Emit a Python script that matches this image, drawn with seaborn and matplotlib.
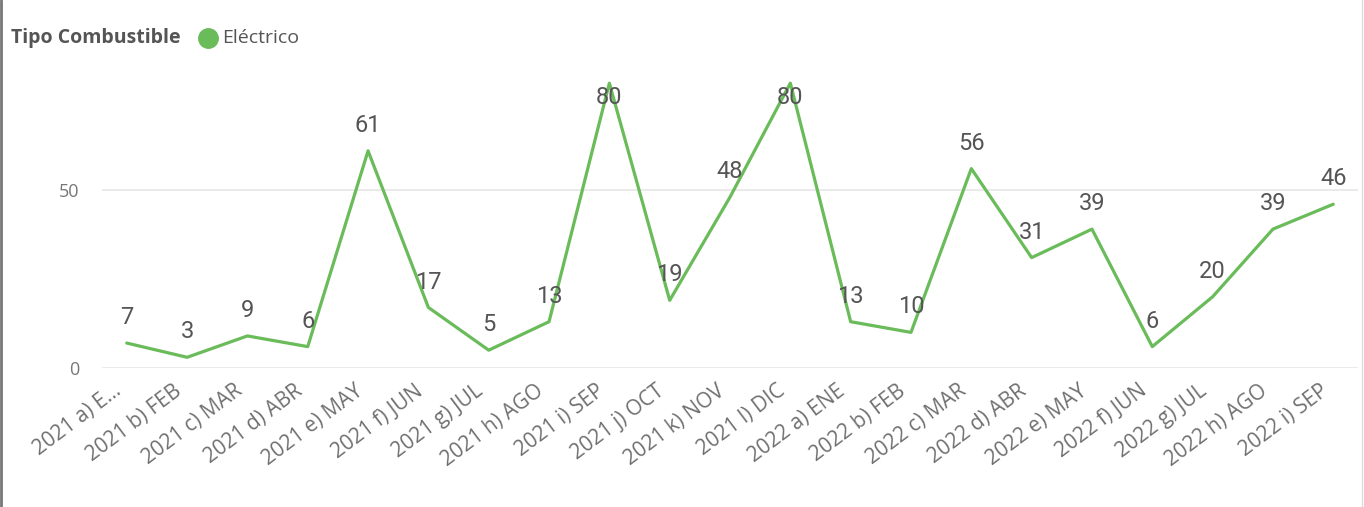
import pandas as pd
import seaborn as sns
import matplotlib.pyplot as plt
import matplotlib.transforms as mtransforms
from matplotlib.lines import Line2D

meses = ["2021 a) E...", "2021 b) FEB", "2021 c) MAR", "2021 d) ABR", "2021 e) MAY",
         "2021 f) JUN", "2021 g) JUL", "2021 h) AGO", "2021 i) SEP", "2021 j) OCT",
         "2021 k) NOV", "2021 l) DIC", "2022 a) ENE", "2022 b) FEB", "2022 c) MAR",
         "2022 d) ABR", "2022 e) MAY", "2022 f) JUN", "2022 g) JUL", "2022 h) AGO",
         "2022 i) SEP"]
electrico = [7, 3, 9, 6, 61, 17, 5, 13, 80, 19, 48, 80, 13, 10, 56, 31, 39, 6, 20, 39, 46]

verde = "#6ABB5A"
gris = "#707070"

sns.set_style("white")
plt.rcParams['font.family'] = ['Open Sans', 'DejaVu Sans']

df = pd.DataFrame({"mes": meses, "valor": electrico})

fig = plt.figure(figsize=(13.64, 5.07), dpi=100)
ax = fig.add_axes([0.0748, 0.2742, 0.9208, 0.5758])
sns.lineplot(data=df, x="mes", y="valor", sort=False, color=verde, linewidth=2.3, ax=ax,
             clip_on=False)

ax.set_xlim(-0.41, len(meses) - 0.59)
ax.set_ylim(0, 82)
ax.set_yticks([0, 50])
ax.yaxis.grid(True, color="#E6E6E6", linewidth=1.2)
ax.set_axisbelow(True)
for s in ax.spines.values():
    s.set_visible(False)
ax.set_xlabel("")
ax.set_ylabel("")
ax.tick_params(axis="y", length=0, pad=16, labelsize=13, labelcolor="#777777")
ax.tick_params(axis="x", length=0, pad=9, labelsize=15, labelcolor=gris)
ax.set_xticks(range(len(meses)))
ax.set_xticklabels(meses, rotation=37, ha="right", rotation_mode="anchor")
desplazar = mtransforms.ScaledTranslation(-14 / 100, 0, fig.dpi_scale_trans)
for lbl in ax.get_xticklabels():
    lbl.set_transform(lbl.get_transform() + desplazar)

top = max(electrico)
for i, v in enumerate(electrico):
    dy = -10 if v == top else 10
    ax.annotate(str(v), (i, v), xytext=(0, dy), textcoords="offset points",
                ha="center", va="center" if v == top else "bottom",
                fontsize=17, color="#555555", family=["Roboto", "DejaVu Sans"])

# leyenda
fig.text(0.008, 0.925, "Tipo Combustible", fontsize=14, fontweight="bold",
         color="#555555", va="center")
fig.add_artist(Line2D([0.1525], [0.925], marker="o", markersize=14, color=verde,
                      transform=fig.transFigure))
fig.text(0.1625, 0.925, "Eléctrico", fontsize=14, color="#555555", va="center")

# bordes
fig.add_artist(Line2D([0.001, 0.001], [0, 1], color="#777777", linewidth=2,
                      transform=fig.transFigure))
fig.add_artist(Line2D([0.9985, 0.9985], [0, 1], color="#DDDDDD", linewidth=1,
                      transform=fig.transFigure))

fig.savefig("out.png", dpi=100)
